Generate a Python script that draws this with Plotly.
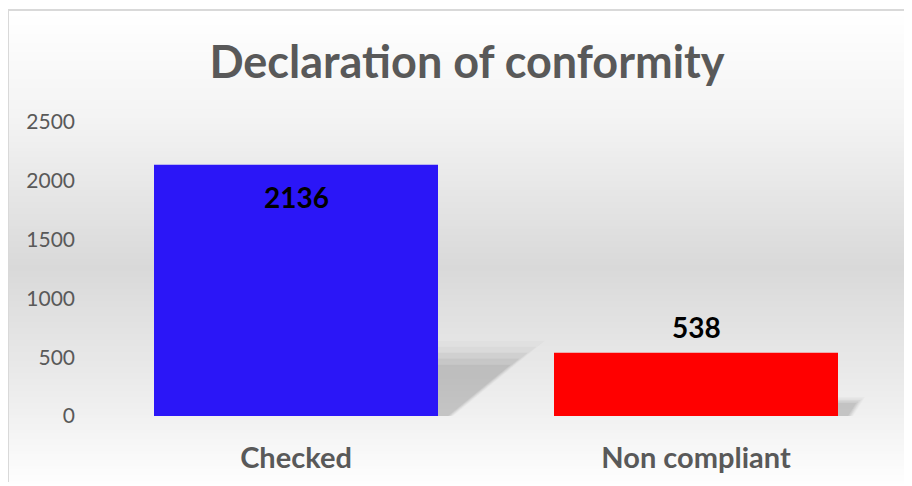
import plotly.graph_objects as go

categories = ["Checked", "Non compliant"]
values = [2136, 538]
bar_colors = ["#2B16F7", "#FF0000"]
y_ticks = [0, 500, 1000, 1500, 2000, 2500]

# page has an 8px body margin, so the figure is drawn 8px smaller and offset
OFF = 8
W, H = 912 - OFF, 486 - OFF
L, R, T, B = 96 - OFF, 16, 122 - OFF, 70
PW, PH = W - L - R, H - T - B
GRAY = "#595959"
FONT = "Lato"


def px_x(px):
    # px is a reference-image pixel
    return (px - OFF - L) / PW


def px_y(py):
    return (H - B - (py - OFF)) / PH


fig = go.Figure()
fig.add_trace(go.Bar(
    x=list(range(len(categories))), y=values,
    marker=dict(color=bar_colors, line=dict(width=0)),
    width=0.71, showlegend=False, hoverinfo="x+y",
))

shapes = []

# background: vertical grey gradient (light at top/bottom, darker in the middle)
stops = [(10, 255), (120, 243), (265, 217), (400, 238), (486, 255)]
step = 3
for py in range(10, 490, step):
    for (a, ca), (b, cb) in zip(stops, stops[1:]):
        if a <= py <= b:
            c = int(round(ca + (cb - ca) * (py - a) / (b - a)))
            break
    else:
        c = 255
    shapes.append(dict(
        type="rect", xref="paper", yref="paper", layer="below",
        x0=px_x(8), x1=px_x(925), y0=px_y(py + step + 0.5), y1=px_y(py),
        fillcolor=f"rgb({c},{c},{c})", line=dict(width=0),
    ))

# chart border (left & top only visible)
shapes.append(dict(type="line", xref="paper", yref="paper", layer="below",
                   x0=px_x(8), x1=px_x(8), y0=px_y(10), y1=px_y(482),
                   line=dict(color="#d9d9d9", width=2)))
shapes.append(dict(type="line", xref="paper", yref="paper", layer="below",
                   x0=px_x(8), x1=px_x(925), y0=px_y(10), y1=px_y(10),
                   line=dict(color="#d9d9d9", width=2)))

# soft perspective shadows behind the bars
for i, v in enumerate(values):
    xr = i + 0.355
    for k, op in [(1.25, 0.04), (1.15, 0.05), (1.05, 0.07), (0.95, 0.08), (0.85, 0.09)]:
        dy = 0.24 * v * k
        dx = 1.0e-4 * v * k
        shapes.append(dict(
            type="path", xref="x", yref="y", layer="below",
            path=f"M {xr},0 L {xr},{dy} L {xr + dx},{dy} L {xr + 0.03 * k},0 Z",
            fillcolor="rgba(90,90,90,1)", opacity=op, line=dict(width=0),
        ))

annotations = []
for i, v in enumerate(values):
    inside = v > 1500
    annotations.append(dict(
        x=i, y=v, xref="x", yref="y", text=f"<b>{v}</b>", showarrow=False,
        yshift=-32 if inside else 26,
        font=dict(family=FONT, size=28, color="#000000"),
    ))

fig.update_layout(
    width=W, height=H,
    margin=dict(l=L, r=R, t=T, b=B, autoexpand=False),
    paper_bgcolor="white", plot_bgcolor="rgba(0,0,0,0)",
    title=dict(text="<b>Declaration of conformity</b>", x=(467 - OFF) / W, xanchor="center",
               y=1 - (62 - OFF) / H, yanchor="middle", yref="container",
               font=dict(family=FONT, size=45, color=GRAY)),
    shapes=shapes, annotations=annotations,
    bargap=0.29,
)
fig.update_xaxes(
    range=[-0.5, 1.5], tickvals=list(range(len(categories))),
    ticktext=[f"<b>{c}</b>" for c in categories],
    tickfont=dict(family=FONT, size=29, color=GRAY),
    showgrid=False, zeroline=False, showline=False, ticks="",
    ticklabelstandoff=22, automargin=False,
)
fig.update_yaxes(
    range=[0, 2500], tickvals=y_ticks,
    tickfont=dict(family=FONT, size=21, color=GRAY),
    showgrid=False, zeroline=False, showline=False, ticks="",
    ticklabelstandoff=20, automargin=False,
)

fig.write_html("out.html")
